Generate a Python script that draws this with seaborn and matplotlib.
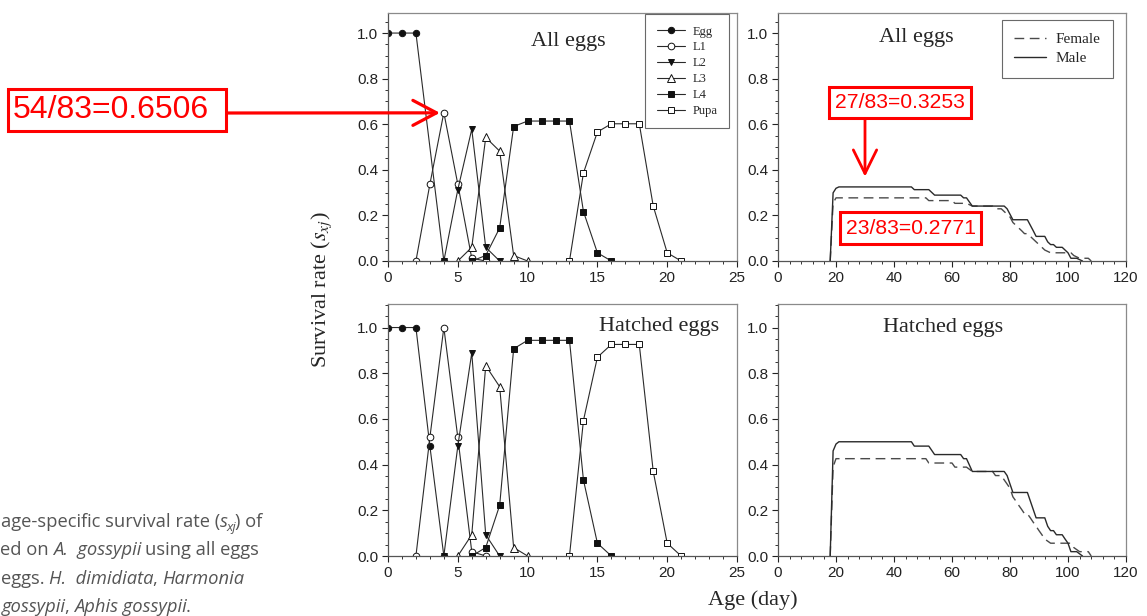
import numpy as np
import pandas as pd
import matplotlib
matplotlib.use("Agg")
import matplotlib.pyplot as plt
from matplotlib.ticker import MultipleLocator
from matplotlib.patches import Rectangle
import seaborn as sns

# ---------------- data ----------------
stage_names = ["Egg", "L1", "L2", "L3", "L4", "Pupa"]

# All eggs (age-stage survival s_xj)
all_egg_days = [0, 1, 2, 4]
all_egg_vals = [1.0, 1.0, 1.0, 0.0]
all_l1_days = [2, 3, 4, 5, 6, 7]
all_l1_vals = [0.0, 0.337, 0.651, 0.337, 0.012, 0.0]
all_l2_days = [4, 5, 6, 7, 8]
all_l2_vals = [0.0, 0.313, 0.578, 0.060, 0.0]
all_l3_days = [5, 6, 7, 8, 9, 10]
all_l3_vals = [0.0, 0.060, 0.542, 0.482, 0.024, 0.0]
all_l4_days = [6, 7, 8, 9, 10, 11, 12, 13, 14, 15, 16]
all_l4_vals = [0.0, 0.024, 0.145, 0.590, 0.614, 0.614, 0.614, 0.614, 0.217, 0.036, 0.0]
all_pupa_days = [13, 14, 15, 16, 17, 18, 19, 20, 21]
all_pupa_vals = [0.0, 0.386, 0.566, 0.602, 0.602, 0.602, 0.241, 0.036, 0.0]

# Hatched eggs
hat_egg_days = [0, 1, 2, 3, 4]
hat_egg_vals = [1.0, 1.0, 1.0, 0.481, 0.0]
hat_l1_days = [2, 3, 4, 5, 6, 7]
hat_l1_vals = [0.0, 0.519, 1.0, 0.519, 0.019, 0.0]
hat_l2_days = [4, 5, 6, 7, 8]
hat_l2_vals = [0.0, 0.481, 0.889, 0.093, 0.0]
hat_l3_days = [5, 6, 7, 8, 9, 10]
hat_l3_vals = [0.0, 0.093, 0.833, 0.741, 0.037, 0.0]
hat_l4_days = [6, 7, 8, 9, 10, 11, 12, 13, 14, 15, 16]
hat_l4_vals = [0.0, 0.037, 0.222, 0.907, 0.944, 0.944, 0.944, 0.944, 0.333, 0.056, 0.0]
hat_pupa_days = [13, 14, 15, 16, 17, 18, 19, 20, 21]
hat_pupa_vals = [0.0, 0.593, 0.870, 0.926, 0.926, 0.926, 0.370, 0.056, 0.0]

# Adult female / male survival
male_days = [18, 19, 20, 21, 46, 47, 52, 54, 63, 64, 65, 67, 78, 79, 80, 81, 86, 87, 88,
             89, 92, 93, 94, 95, 96, 98, 99, 100, 101, 103, 105]
all_male_vals = [0.0, 0.299, 0.319, 0.325, 0.325, 0.313, 0.313, 0.289, 0.289, 0.277, 0.277,
                 0.241, 0.241, 0.229, 0.205, 0.181, 0.181, 0.157, 0.133, 0.108, 0.108, 0.084,
                 0.072, 0.072, 0.060, 0.060, 0.048, 0.036, 0.012, 0.012, 0.0]
hat_male_vals = [0.0, 0.46, 0.49, 0.5, 0.5, 0.481, 0.481, 0.444, 0.444, 0.426, 0.426,
                 0.37, 0.37, 0.352, 0.315, 0.278, 0.278, 0.241, 0.204, 0.167, 0.167, 0.13,
                 0.111, 0.111, 0.093, 0.093, 0.074, 0.056, 0.019, 0.019, 0.0]
female_days = [18, 19, 20, 51, 52, 60, 61, 65, 67, 74, 75, 77, 78, 79, 80, 81, 82, 83, 84,
               85, 86, 87, 88, 89, 90, 91, 92, 94, 101, 102, 104, 107, 108]
all_female_vals = [0.0, 0.254, 0.277, 0.277, 0.265, 0.265, 0.253, 0.253, 0.241, 0.241,
                   0.229, 0.229, 0.217, 0.205, 0.193, 0.169, 0.157, 0.145, 0.133, 0.120,
                   0.120, 0.108, 0.096, 0.084, 0.072, 0.060, 0.048, 0.036, 0.036, 0.024,
                   0.012, 0.012, 0.0]
hat_female_vals = [0.0, 0.39, 0.426, 0.426, 0.407, 0.407, 0.389, 0.389, 0.37, 0.37,
                   0.352, 0.352, 0.333, 0.315, 0.296, 0.259, 0.241, 0.222, 0.204, 0.185,
                   0.185, 0.167, 0.148, 0.13, 0.111, 0.093, 0.074, 0.056, 0.056, 0.037,
                   0.019, 0.019, 0.0]

# ---------------- style ----------------
sns.set_style("ticks")
plt.rcParams["font.family"] = ["Liberation Sans", "DejaVu Sans"]
plt.rcParams["mathtext.fontset"] = "stix"

W, H = 1147, 616
fig = plt.figure(figsize=(W / 100, H / 100), dpi=100)
fig.patch.set_facecolor("white")


def px_axes(l, t, r, b):
    return fig.add_axes([l / W, (H - b) / H, (r - l) / W, (b - t) / H])


ax_tl = px_axes(388, 13, 737, 261)
ax_bl = px_axes(388, 304, 737, 556)
ax_tr = px_axes(778, 13, 1126, 261)
ax_br = px_axes(778, 304, 1126, 556)

serif = "Liberation Serif"
line_col = "#2a2a2a"

stage_style = [
    ("o", "#111111", 4.6),
    ("o", "white", 4.8),
    ("v", "#111111", 5.0),
    ("^", "white", 5.2),
    ("s", "#111111", 4.2),
    ("s", "white", 4.4),
]


def draw_stages(ax, series):
    for name, (days, vals), (mk, fc, ms) in zip(stage_names, series, stage_style):
        sns.lineplot(x=days, y=vals, ax=ax, color=line_col, linewidth=0.8,
                     marker=mk, markersize=ms, markerfacecolor=fc,
                     markeredgecolor="#111111", markeredgewidth=0.7,
                     label=name, sort=False, estimator=None, legend=False)


draw_stages(ax_tl, [(all_egg_days, all_egg_vals), (all_l1_days, all_l1_vals),
                    (all_l2_days, all_l2_vals), (all_l3_days, all_l3_vals),
                    (all_l4_days, all_l4_vals), (all_pupa_days, all_pupa_vals)])
draw_stages(ax_bl, [(hat_egg_days, hat_egg_vals), (hat_l1_days, hat_l1_vals),
                    (hat_l2_days, hat_l2_vals), (hat_l3_days, hat_l3_vals),
                    (hat_l4_days, hat_l4_vals), (hat_pupa_days, hat_pupa_vals)])

for ax, fv, mv in [(ax_tr, all_female_vals, all_male_vals),
                   (ax_br, hat_female_vals, hat_male_vals)]:
    sns.lineplot(x=female_days, y=fv, ax=ax, color="#4a4a4a", linewidth=1.0,
                 linestyle=(0, (7, 4)), label="Female", sort=False, estimator=None, legend=False)
    sns.lineplot(x=male_days, y=mv, ax=ax, color="#2a2a2a", linewidth=1.0,
                 label="Male", sort=False, estimator=None, legend=False)

for ax in [ax_tl, ax_bl, ax_tr, ax_br]:
    ax.set_xlabel("")
    ax.set_ylabel("")
    ax.yaxis.set_major_locator(MultipleLocator(0.2))
    ax.yaxis.set_minor_locator(MultipleLocator(0.05))
    ax.yaxis.set_major_formatter(matplotlib.ticker.FormatStrFormatter("%.1f"))
    ax.tick_params(which="major", direction="out", length=4, width=0.8,
                   colors="#222222", labelsize=11, pad=3)
    ax.tick_params(which="minor", direction="out", length=2.5, width=0.7, colors="#333333")
    for s in ["left", "bottom"]:
        ax.spines[s].set_color("#555555")
        ax.spines[s].set_linewidth(0.9)
    for s in ["top", "right"]:
        ax.spines[s].set_color("#8a8a8a")
        ax.spines[s].set_linewidth(0.9)
        ax.spines[s].set_visible(True)
    ax.set_facecolor("white")

for ax in [ax_tl, ax_bl]:
    ax.set_xlim(0, 25)
    ax.xaxis.set_major_locator(MultipleLocator(5))
    ax.xaxis.set_minor_locator(MultipleLocator(1))
for ax in [ax_tr, ax_br]:
    ax.set_xlim(0, 120)
    ax.xaxis.set_major_locator(MultipleLocator(20))
    ax.xaxis.set_minor_locator(MultipleLocator(4))
ax_tl.set_ylim(0, 1.088)
ax_tr.set_ylim(0, 1.088)
ax_bl.set_ylim(0, 1.103)
ax_br.set_ylim(0, 1.103)

# panel titles
title_fs = 16
ax_tl.text(0.516, 0.887, "All eggs", transform=ax_tl.transAxes, ha="center", va="center",
           family=serif, fontsize=title_fs)
ax_tr.text(0.397, 0.903, "All eggs", transform=ax_tr.transAxes, ha="center", va="center",
           family=serif, fontsize=title_fs)
ax_bl.text(0.777, 0.909, "Hatched eggs", transform=ax_bl.transAxes, ha="center", va="center",
           family=serif, fontsize=title_fs)
ax_br.text(0.474, 0.905, "Hatched eggs", transform=ax_br.transAxes, ha="center", va="center",
           family=serif, fontsize=title_fs)

# legends
h, l = ax_tl.get_legend_handles_labels()
leg = ax_tl.legend(h, l, loc="upper right", bbox_to_anchor=(1 - 8 / 349, 1 - 1 / 248),
                   borderaxespad=0, frameon=True, fancybox=False, edgecolor="#444444",
                   prop={"family": serif, "size": 9}, handlelength=2.25, labelspacing=0.31,
                   handletextpad=0.62, borderpad=0.92)
leg.get_frame().set_linewidth(0.8)
h, l = ax_tr.get_legend_handles_labels()
leg = ax_tr.legend(h, l, loc="upper right", bbox_to_anchor=(1 - 13 / 348, 1 - 7 / 248),
                   borderaxespad=0, frameon=True, fancybox=False, edgecolor="#444444",
                   prop={"family": serif, "size": 11}, handlelength=2.1, labelspacing=0.35,
                   handletextpad=0.6, borderpad=0.82)
leg.get_frame().set_linewidth(0.8)

# axis labels
fig.text(322 / W, 1 - 290 / H, r"Survival rate ($s_{xj}$)", rotation=90, ha="center",
         va="center", family=serif, fontsize=16)
fig.text(753 / W, 1 - 600 / H, "Age (day)", ha="center", va="center", family=serif,
         fontsize=16)

# red annotations
red = "#ff0000"


def red_box(l, t, r, b, text, fs, tx):
    fig.add_artist(Rectangle((l / W, (H - b) / H), (r - l) / W, (b - t) / H,
                             transform=fig.transFigure, facecolor="white", edgecolor=red,
                             linewidth=2.2, zorder=5))
    fig.text(tx / W, 1 - ((t + b) / 2) / H, text, ha="left", va="center", color=red,
             fontsize=fs, family="Liberation Sans", zorder=6)


red_box(8, 89, 226, 131, "54/83=0.6506", 23, 13)
ax_tl.annotate("", xy=(3.72, 0.65), xycoords="data", xytext=(227, H - 113),
               textcoords="figure pixels", annotation_clip=False,
               arrowprops=dict(arrowstyle="->,head_length=0.85,head_width=0.45", color=red,
                               lw=2.3, shrinkA=0, shrinkB=0, mutation_scale=20))
red_box(829, 87, 971, 118, "27/83=0.3253", 15.2, 835)
ax_tr.annotate("", xy=(30.0, 0.37), xycoords="data", xytext=(865, H - 119),
               textcoords="figure pixels", annotation_clip=False,
               arrowprops=dict(arrowstyle="->,head_length=0.85,head_width=0.42", color=red,
                               lw=2.0, shrinkA=0, shrinkB=0, mutation_scale=20))
red_box(840, 212, 981, 244, "23/83=0.2771", 15.2, 846)

# caption fragment (cut at the left edge of the picture)
renderer = fig.canvas.get_renderer()
cap_col = "#555555"
cap_fs = 13.2


def text_w(s, it=False, fs=cap_fs):
    t = fig.text(0, 0, s, fontsize=fs, family="Open Sans",
                 style="italic" if it else "normal")
    w = t.get_window_extent(renderer).width
    t.remove()
    return w


space_w = text_w("x x") - text_w("xx")


def rich_line(x, y, pieces):
    for p in pieces:
        if p is None:
            x += space_w
            continue
        txt, it, sub = p
        fs = cap_fs * 0.72 if sub else cap_fs
        dy = -4 if sub else 0
        t = fig.text(x / W, (H - y + dy) / H, txt, fontsize=fs, family="Open Sans",
                     style="italic" if it else "normal", color=cap_col, ha="left",
                     va="baseline")
        x += t.get_window_extent(renderer).width - (1.5 if it else 0)


rich_line(1, 527, [("age-specific survival rate (", False, False), ("s", True, False),
                   ("xj", True, True), (") of", False, False)])
rich_line(0, 555, [("ed on", False, False), None, ("A.  gossypii", True, False), None,
                   ("using all eggs", False, False)])
rich_line(1, 584, [("eggs.", False, False), None, ("H.  dimidiata", True, False),
                   (",", False, False), None, ("Harmonia", True, False)])
rich_line(2, 612, [("gossypii", True, False), (",", False, False), None,
                   ("Aphis gossypii", True, False), (".", False, False)])

fig.savefig("out.png", dpi=100, facecolor="white")
